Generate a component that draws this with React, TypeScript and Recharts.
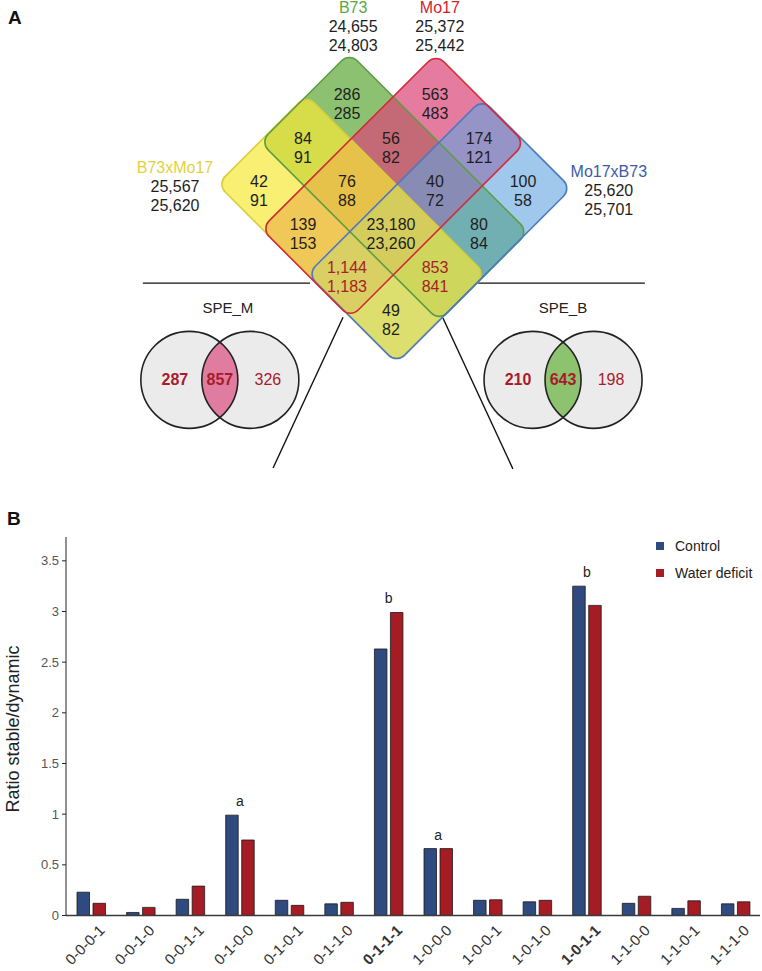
import React from "react";
import {
  BarChart,
  Bar,
  XAxis,
  YAxis,
  Legend,
  LabelList,
  ScatterChart,
  Scatter,
  ReferenceLine,
} from "recharts";

const FONT = '"Liberation Sans", Arial, Helvetica, sans-serif';

// ---------- Panel A: expressed genes per genotype (control / water deficit)
const setNames = ["B73xMo17", "B73", "Mo17", "Mo17xB73"];
const setTotalControl = ["25,567", "24,655", "25,372", "25,620"];
const setTotalDeficit = ["25,620", "24,803", "25,442", "25,701"];

// Venn regions, read row by row from the top of the diamond
const regionControl = ["286", "563", "84", "56", "174", "42", "76", "40", "100", "139", "23,180", "80", "1,144", "853", "49"];
const regionDeficit = ["285", "483", "91", "82", "121", "91", "88", "72", "58", "153", "23,260", "84", "1,183", "841", "82"];
const regionHighlight = [false, false, false, false, false, false, false, false, false, false, false, false, true, true, false];

const speNames = ["SPE_M", "SPE_B"];
const speLeft = ["287", "210"];
const speShared = ["857", "643"];
const speRight = ["326", "198"];

// ---------- Panel B: stable/dynamic ratio per expression pattern
const patterns = [
  "0-0-0-1", "0-0-1-0", "0-0-1-1", "0-1-0-0", "0-1-0-1", "0-1-1-0", "0-1-1-1",
  "1-0-0-0", "1-0-0-1", "1-0-1-0", "1-0-1-1", "1-1-0-0", "1-1-0-1", "1-1-1-0",
];
const controlRatio = [0.23, 0.03, 0.16, 0.99, 0.15, 0.115, 2.63, 0.66, 0.15, 0.135, 3.25, 0.12, 0.07, 0.115];
const deficitRatio = [0.12, 0.08, 0.29, 0.745, 0.1, 0.13, 2.99, 0.66, 0.155, 0.15, 3.06, 0.19, 0.145, 0.135];
const sigLetters = ["", "", "", "a", "", "", "b", "a", "", "", "b", "", "", ""];
const boldPatterns = ["0-1-1-1", "1-0-1-1"];
const ratioTicks = [0, 0.5, 1, 1.5, 2, 2.5, 3, 3.5];
const seriesNames = ["Control", "Water deficit"];

// ---------- layout / style of panel A (lattice units: 1 column = 44px, 1 row = 43.2px)
const A_W = 762;
const A_H = 480;
const ORIGIN_X = 259;
const ORIGIN_Y = 147;
const CELL_X = 44;
const CELL_Y = 43.2;
const latX: [number, number] = [-ORIGIN_X / CELL_X, (A_W - ORIGIN_X) / CELL_X];
const latY: [number, number] = [-ORIGIN_Y / CELL_Y, (A_H - ORIGIN_Y) / CELL_Y];

const regionCol = [2, 4, 1, 3, 5, 0, 2, 4, 6, 1, 3, 5, 2, 4, 3];
const regionRow = [-1, -1, 0, 0, 0, 1, 1, 1, 1, 2, 2, 2, 3, 3, 4];

// rounded rectangles of the four sets (order as setNames)
const setCol = [2.1, 3.075, 3.05, 4.1];
const setRow = [1.9, 0.925, 0.9, 1.95];
const setAngle = [45, 45, -45, -45];
const setLen = [253, 253, 247, 247];
const SET_WID = 126;
const SET_R = 11;
const setLabelCol = [-1.91, 2.14, 4.11, 7.95];
const setLabelRow = [0.46, -3.24, -3.24, 0.56];
const setFill = ["#F5E838", "#70B14F", "#DA4477", "#61A3DF"];
const setFillOpacity = [0.7, 0.8, 0.7, 0.6];
const setStroke = ["#D8CD3A", "#5C9E42", "#D42A36", "#4C7AC2"];
const setTextColor = ["#E2D23A", "#5AA83E", "#D2232A", "#3D5BA7"];
const fillOrder = [1, 2, 3, 0];
const strokeOrder = [0, 1, 3, 2];

const speCol = [-0.89, 6.91];
const speRow = [5.39, 5.39];
const speTitleDx = [8, 0];
const speLensFill = ["#E07C9F", "#8DC26F"];
const SPE_R = 48.5;
const SPE_HALF = 30.5;

const connectors = [
  [{ x: -2.64, y: 3.15 }, { x: 1.16, y: 3.15 }],
  [{ x: 4.98, y: 3.15 }, { x: 8.77, y: 3.15 }],
  [{ x: 1.91, y: 3.94 }, { x: 0.32, y: 7.43 }],
  [{ x: 4.18, y: 3.96 }, { x: 5.77, y: 7.45 }],
];

const A_FONT = 16;

const fillRows = fillOrder.map((k) => ({ x: setCol[k], y: setRow[k], k }));
const strokeRows = strokeOrder.map((k) => ({ x: setCol[k], y: setRow[k], k }));
const setLabelRows = setNames.map((_, k) => ({ x: setLabelCol[k], y: setLabelRow[k], k }));
const regionRows = regionControl.map((_, k) => ({ x: regionCol[k], y: regionRow[k], k }));
const speRows = speNames.map((_, k) => ({ x: speCol[k], y: speRow[k], k }));

const setRect = (p: any, k: number) => ({
  x: p.cx - setLen[k] / 2,
  y: p.cy - SET_WID / 2,
  width: setLen[k],
  height: SET_WID,
  rx: SET_R,
  transform: `rotate(${setAngle[k]} ${p.cx} ${p.cy})`,
});

const SetFill = (p: any) => {
  const k = p.payload.k;
  return <rect {...setRect(p, k)} fill={setFill[k]} fillOpacity={setFillOpacity[k]} />;
};

const SetOutline = (p: any) => {
  const k = p.payload.k;
  return <rect {...setRect(p, k)} fill="none" stroke={setStroke[k]} strokeWidth={1.6} />;
};

const RegionLabel = (p: any) => {
  const k = p.payload.k;
  const color = regionHighlight[k] ? "#A5222A" : "#1E1E1E";
  return (
    <text x={p.cx} y={p.cy} textAnchor="middle" fontSize={A_FONT} fill={color}>
      <tspan x={p.cx} dy={-3.5}>{regionControl[k]}</tspan>
      <tspan x={p.cx} dy={19}>{regionDeficit[k]}</tspan>
    </text>
  );
};

const SetLabel = (p: any) => {
  const k = p.payload.k;
  return (
    <text x={p.cx} y={p.cy} textAnchor="middle" fontSize={A_FONT} fill="#1E1E1E">
      <tspan x={p.cx} dy={5.8} fill={setTextColor[k]}>{setNames[k]}</tspan>
      <tspan x={p.cx} dy={19.5}>{setTotalControl[k]}</tspan>
      <tspan x={p.cx} dy={18.5}>{setTotalDeficit[k]}</tspan>
    </text>
  );
};

const SpeVenn = (p: any) => {
  const k = p.payload.k;
  const { cx, cy } = p;
  const lx = cx - SPE_HALF;
  const rx = cx + SPE_HALF;
  const clipId = `spe-lens-${k}`;
  return (
    <g>
      <defs>
        <clipPath id={clipId}>
          <circle cx={lx} cy={cy} r={SPE_R} />
        </clipPath>
      </defs>
      <circle cx={lx} cy={cy} r={SPE_R} fill="#EBEBEB" />
      <circle cx={rx} cy={cy} r={SPE_R} fill="#EBEBEB" />
      <circle cx={rx} cy={cy} r={SPE_R} fill={speLensFill[k]} clipPath={`url(#${clipId})`} />
      <circle cx={lx} cy={cy} r={SPE_R} fill="none" stroke="#222" strokeWidth={1.6} />
      <circle cx={rx} cy={cy} r={SPE_R} fill="none" stroke="#222" strokeWidth={1.6} />
      <text x={cx + speTitleDx[k]} y={cy - 66.5} textAnchor="middle" fontSize={15} fill="#222">
        {speNames[k]}
      </text>
      <text x={cx - 45} y={cy + 5.5} textAnchor="middle" fontSize={A_FONT} fontWeight={700} fill="#A61C2B">
        {speLeft[k]}
      </text>
      <text x={cx} y={cy + 5.5} textAnchor="middle" fontSize={A_FONT} fontWeight={700} fill="#A61C2B">
        {speShared[k]}
      </text>
      <text x={cx + 48} y={cy + 5.5} textAnchor="middle" fontSize={A_FONT} fill="#A61C2B">
        {speRight[k]}
      </text>
    </g>
  );
};

function VennPanel() {
  return (
    <ScatterChart width={A_W} height={A_H} margin={{ top: 0, right: 0, bottom: 0, left: 0 }}>
      <XAxis type="number" dataKey="x" domain={latX} allowDataOverflow hide height={0} />
      <YAxis type="number" dataKey="y" domain={latY} allowDataOverflow reversed hide width={0} />
      {connectors.map((seg, i) => (
        <ReferenceLine key={i} segment={seg} stroke="#111" strokeWidth={1.4} ifOverflow="visible" />
      ))}
      <Scatter data={fillRows} shape={SetFill} isAnimationActive={false} />
      <Scatter data={strokeRows} shape={SetOutline} isAnimationActive={false} />
      <Scatter data={regionRows} shape={RegionLabel} isAnimationActive={false} />
      <Scatter data={setLabelRows} shape={SetLabel} isAnimationActive={false} />
      <Scatter data={speRows} shape={SpeVenn} isAnimationActive={false} />
    </ScatterChart>
  );
}

// ---------- panel B
const seriesColors = ["#2E4A7E", "#A51C24"];
const BAR_GAP = 3.5;

const barRows = patterns.map((pattern, i) => ({
  pattern,
  control: controlRatio[i],
  deficit: deficitRatio[i],
  letterC: controlRatio[i] >= deficitRatio[i] ? sigLetters[i] : "",
  letterD: controlRatio[i] < deficitRatio[i] ? sigLetters[i] : "",
}));

const PatternTick = (props: any) => {
  const { x, y, payload } = props;
  const bold = boldPatterns.includes(payload.value);
  return (
    <g transform={`translate(${x + 7},${y})`}>
      <text
        transform="rotate(-45)"
        textAnchor="end"
        dy="0.75em"
        fontSize={15}
        fontWeight={bold ? 700 : 400}
        fill="#333"
      >
        {payload.value}
      </text>
    </g>
  );
};

const letterAt = (side: "left" | "right") => (props: any) => {
  const vb = props.viewBox || props;
  const value = props.value;
  if (!value) return null;
  const cx = side === "left" ? vb.x + vb.width + BAR_GAP / 2 : vb.x - BAR_GAP / 2;
  return (
    <text x={cx} y={vb.y - 9} textAnchor="middle" fontSize={14} fill="#222">
      {value}
    </text>
  );
};

const LegendBox = () => (
  <div style={{ fontSize: 14, color: "#222", fontFamily: FONT }}>
    {seriesNames.map((n, i) => (
      <div key={n} style={{ display: "flex", alignItems: "center", height: 27 }}>
        <span
          style={{
            display: "inline-block",
            width: 8,
            height: 8,
            background: seriesColors[i],
            marginRight: 11,
          }}
        />
        {n}
      </div>
    ))}
  </div>
);

const YTitle = () => (
  <text
    transform="translate(13,239) rotate(-90)"
    textAnchor="middle"
    dominantBaseline="central"
    fontSize={18}
    fill="#222"
  >
    Ratio stable/dynamic
  </text>
);

function RatioPanel() {
  return (
    <BarChart
      width={762}
      height={481}
      data={barRows}
      margin={{ top: 47, right: 2, bottom: 5.5, left: 14 }}
      barSize={12.5}
      barGap={BAR_GAP}
    >
      <XAxis
        dataKey="pattern"
        interval={0}
        height={50}
        tickLine={false}
        axisLine={{ stroke: "#3A3A3A", strokeWidth: 1.5 }}
        tick={<PatternTick />}
      />
      <YAxis
        domain={[0, 3.735]}
        ticks={ratioTicks}
        allowDataOverflow
        width={52}
        tickSize={4}
        tickMargin={3}
        axisLine={{ stroke: "#222" }}
        tickLine={{ stroke: "#222" }}
        tick={{ fill: "#555", fontSize: 13 }}
        label={{ content: () => <YTitle /> }}
      />
      <Legend
        layout="horizontal"
        verticalAlign="middle"
        align="center"
        content={LegendBox}
        wrapperStyle={{ top: 42.5, left: 656, width: 110 }}
      />
      <Bar dataKey="control" name={seriesNames[0]} fill={seriesColors[0]} stroke="#1B1B1B" strokeWidth={0.8} isAnimationActive={false}>
        <LabelList dataKey="letterC" content={letterAt("left")} />
      </Bar>
      <Bar dataKey="deficit" name={seriesNames[1]} fill={seriesColors[1]} stroke="#1B1B1B" strokeWidth={0.8} isAnimationActive={false}>
        <LabelList dataKey="letterD" content={letterAt("right")} />
      </Bar>
    </BarChart>
  );
}

export default function App() {
  return (
    <div style={{ position: "absolute", left: 0, top: 0, width: 762, height: 971, background: "#fff", fontFamily: FONT }}>
      <div style={{ position: "absolute", left: 0, top: 0 }}>
        <VennPanel />
      </div>
      <div style={{ position: "absolute", left: 0, top: 490 }}>
        <RatioPanel />
      </div>
      <svg width={762} height={971} style={{ position: "absolute", left: 0, top: 0, pointerEvents: "none" }}>
        <text x={8} y={24} fontSize={19} fontWeight={700} fill="#111">A</text>
        <text x={7} y={525} fontSize={19} fontWeight={700} fill="#111">B</text>
      </svg>
    </div>
  );
}
